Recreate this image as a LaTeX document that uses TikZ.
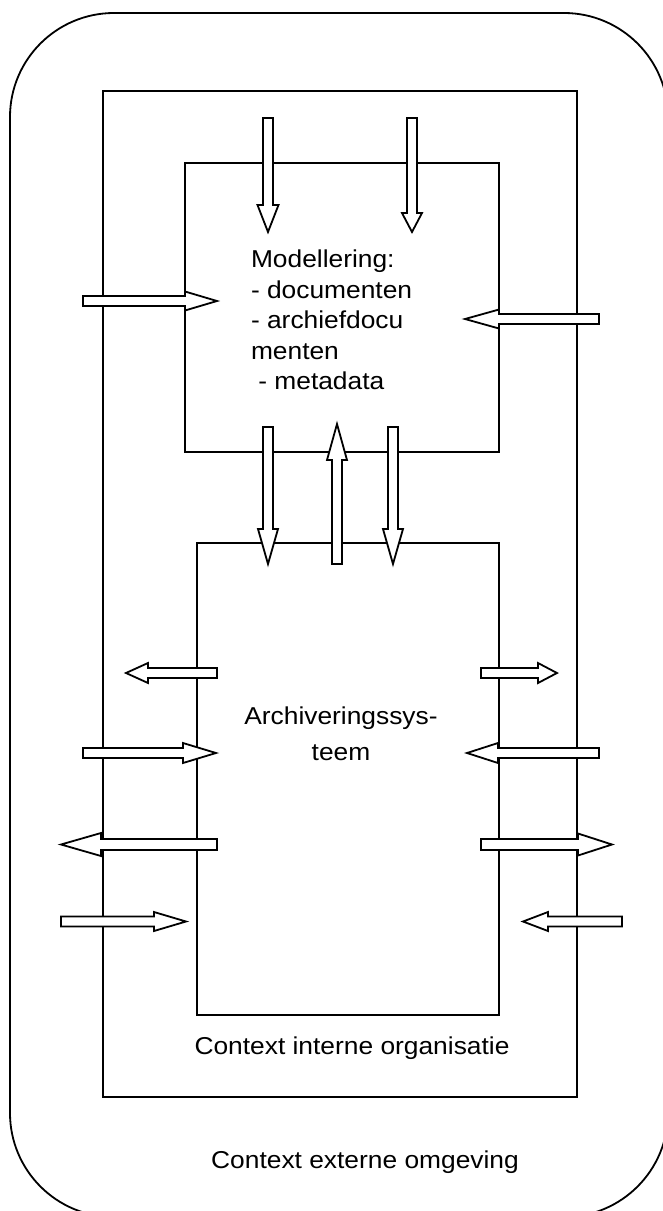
\documentclass[tikz,border=0pt]{standalone}
\usepackage{fontspec}
\setmainfont{Liberation Sans}[FakeStretch=1.08]
\usetikzlibrary{calc}

\tikzset{
  frame/.style={draw=black, line width=1.8pt},
  blockarrow/.style={draw=black, fill=white, line width=1.8pt, line join=miter},
  lbl/.style={inner sep=0pt, outer sep=0pt, font=\fontsize{24.4}{30.5}\selectfont},
}

% horizontal block arrow: name, y, x of tail, x of head base, x of tip, half shaft, half head
\newcommand\hblock[7]{%
  \draw[blockarrow] (#3,#2-#6) -- (#4,#2-#6) -- (#4,#2-#7) -- (#5,#2) coordinate (#1)
    -- (#4,#2+#7) -- (#4,#2+#6) -- (#3,#2+#6) -- cycle;}
% vertical block arrow: name, x, y of tail, y of head base, y of tip, half shaft, half head
\newcommand\vblock[7]{%
  \draw[blockarrow] (#2-#6,#3) -- (#2-#6,#4) -- (#2-#7,#4) -- (#2,#5) coordinate (#1)
    -- (#2+#7,#4) -- (#2+#6,#4) -- (#2+#6,#3) -- cycle;}

\begin{document}
\begin{tikzpicture}[x=1pt, y=-1pt]
  \useasboundingbox (0,0) rectangle (662,1211);

  % external environment
  \draw[frame, rounded corners=104pt] (10,13) rectangle (668,1217);
  % internal organisation
  \draw[frame] (103,91) rectangle (577,1097);
  % modelling box
  \draw[frame] (185,163) rectangle (499,452);
  % archiving system box
  \draw[frame] (197,543) rectangle (499,1015);

  % arrows into the modelling box
  \vblock{m1}{268}{118}{205}{232}{5}{10.5}
  \vblock{m2}{412}{118}{213}{232}{5}{10}
  \hblock{m3}{301}{83}{185}{217}{5}{9.5}
  \hblock{m4}{319}{599}{499}{465}{5}{9.5}

  % arrows between modelling and archiving
  \vblock{c1}{268}{427}{529}{564}{5}{10}
  \vblock{c2}{337}{564}{460}{424}{5}{10}
  \vblock{c3}{393}{427}{529}{564}{5}{10}

  % arrows on the left of the archiving system
  \hblock{l1}{673}{217}{148}{126}{5}{10}
  \hblock{l2}{753}{83}{183}{216}{5}{10}
  \hblock{l3}{844.5}{217}{101}{61}{5.5}{11.5}
  \hblock{l4}{921.5}{61}{154}{186}{5}{9.5}

  % arrows on the right of the archiving system
  \hblock{r1}{673}{481}{538}{557}{5}{10}
  \hblock{r2}{753}{599}{498}{467}{5}{10}
  \hblock{r3}{844.5}{481}{578}{612}{5.5}{11}
  \hblock{r4}{921.5}{622}{548}{523}{5}{9.5}

  % texts
  \node[lbl, anchor=north west, align=left] (model) at (251,250)
    {Modellering:\\- documenten\\- archiefdocu\\menten\\\ - metadata};
  \node[lbl, anchor=north, align=center, font=\fontsize{24.4}{35.5}\selectfont] (arch) at (341,707)
    {Archiveringssys-\\teem};
  \node[lbl, anchor=base] (intern) at (352,1054) {Context interne organisatie};
  \node[lbl, anchor=base] (extern) at (365,1168) {Context externe omgeving};
\end{tikzpicture}
\end{document}
